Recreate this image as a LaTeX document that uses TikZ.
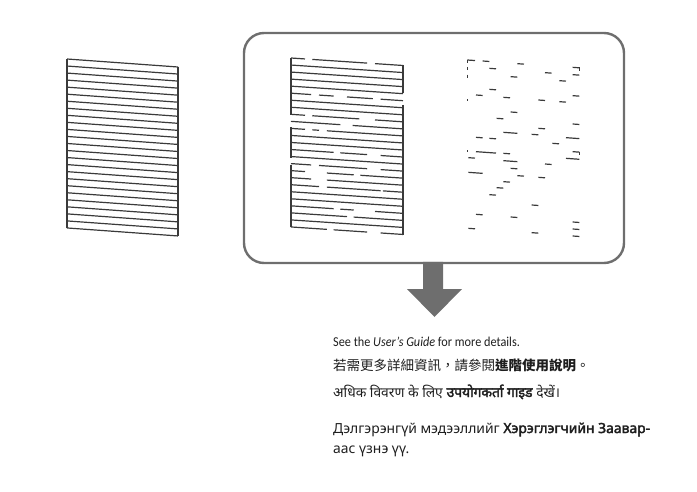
\documentclass[tikz,border=0pt]{standalone}
\usepackage{fontspec}
\setmainfont{Carlito}
\newfontfamily\cjk{Noto Sans CJK TC}
\newfontfamily\deva[Script=Devanagari, AutoFakeBold=2.5]{Noto Sans}
\newfontfamily\cyr[AutoFakeBold=2.5]{Noto Sans}
\definecolor{gridc}{HTML}{3A3A3A}
\definecolor{boxc}{HTML}{6E6E6E}
\definecolor{txtc}{HTML}{1E1E1E}
\tikzset{
  gridline/.style={draw=gridc, line width=1.2pt},
  panelbox/.style={draw=boxc, line width=2.4pt, rounded corners=20pt},
  bigarrow/.style={fill=boxc, draw=none},
  infotext/.style={anchor=base west, inner sep=0pt, text=txtc}
}
% middle grid: line #1 (1..25), from fraction #2 to #3
\newcommand\mseg[3]{\draw[gridline] ({291+112*#2},{58+7.04*(#1-1)+7.5*#2}) -- ({291+112*#3},{58+7.04*(#1-1)+7.5*#3});}
% right pattern dash in zoom coordinates
\newcommand\rdash[3]{\draw[gridline] ({450+#1/3},{50+#3/3}) -- ({450+#2/3},{50+#3/3+0.0714*(#2-#1)/3});}
\begin{document}
\begin{tikzpicture}[x=1pt,y=-1pt]
\useasboundingbox (0,0) rectangle (697,492);
% ---- left (good) pattern
\foreach \i in {0,...,24}{
  \draw[gridline] (67,{59+7.04*\i}) -- (178,{67+7.04*\i});
}
\draw[gridline] (67,59) -- (67,228);
\draw[gridline] (178,67) -- (178,236);
% ---- panel
\draw[panelbox] (244,33) rectangle (624,263);
% ---- middle pattern
\foreach \i in {2,3,4,5,7,8,12,13,15,20,21,24}{ \mseg{\i}{0}{1} }
\mseg{1}{0}{0.125}\mseg{1}{0.19}{0.68}\mseg{1}{0.75}{1}
\mseg{6}{0}{0.18}\mseg{6}{0.25}{0.38}\mseg{6}{0.5}{0.73}\mseg{6}{0.8}{1}
\mseg{9}{0}{0.125}\mseg{9}{0.19}{0.61}\mseg{9}{0.75}{1}
\mseg{10}{0}{0.44}\mseg{10}{0.55}{1}
\mseg{11}{0}{0.125}\mseg{11}{0.19}{0.25}\mseg{11}{0.32}{1}
\mseg{14}{0}{0.38}\mseg{14}{0.44}{0.68}\mseg{14}{0.8}{1}
\mseg{16}{0}{0.18}\mseg{16}{0.25}{0.68}\mseg{16}{0.8}{1}
\mseg{17}{0}{0.125}\mseg{17}{0.32}{0.56}\mseg{17}{0.62}{1}
\mseg{18}{0}{0.18}\mseg{18}{0.32}{1}
\mseg{19}{0}{0.25}\mseg{19}{0.32}{0.8}\mseg{19}{0.82}{1}
\mseg{22}{0}{0.38}\mseg{22}{0.44}{0.56}\mseg{22}{0.75}{1}
\mseg{23}{0}{0.5}\mseg{23}{0.56}{1}
\mseg{25}{0}{0.32}\mseg{25}{0.38}{0.68}\mseg{25}{0.8}{1}
\draw[gridline] (291,58) -- (291,115);
\draw[gridline] (291,127) -- (291,158);
\draw[gridline] (291,165) -- (291,227);
\draw[gridline] (403,65) -- (403,93);
\draw[gridline] (403,105) -- (403,235);
% ---- right (faulty) pattern
\rdash{52}{75}{30}\rdash{98}{118}{33}\rdash{202}{222}{41}
\rdash{118}{138}{55}\rdash{368}{388}{52}\rdash{285}{305}{68}
\rdash{368}{388}{74}\rdash{182}{202}{80}\rdash{328}{348}{92}
\rdash{118}{138}{118}\rdash{78}{98}{135}\rdash{160}{180}{142}
\rdash{368}{388}{137}\rdash{265}{285}{150}\rdash{328}{348}{155}
\rdash{182}{202}{186}\rdash{140}{160}{205}\rdash{368}{388}{222}
\rdash{265}{285}{235}\rdash{160}{202}{247}\rdash{245}{265}{253}
\rdash{78}{98}{262}\rdash{118}{138}{265}\rdash{348}{388}{263}
\rdash{307}{327}{280}\rdash{78}{138}{305}\rdash{160}{180}{310}
\rdash{368}{388}{305}\rdash{55}{75}{323}\rdash{160}{202}{332}
\rdash{348}{388}{325}\rdash{285}{305}{342}\rdash{182}{202}{355}
\rdash{55}{98}{367}\rdash{202}{222}{377}\rdash{265}{285}{382}
\rdash{160}{180}{395}\rdash{140}{160}{413}\rdash{118}{138}{434}
\rdash{245}{265}{465}\rdash{78}{98}{493}\rdash{182}{202}{501}
\rdash{368}{388}{516}\rdash{55}{75}{535}\rdash{368}{388}{537}
\rdash{245}{265}{548}\rdash{368}{388}{558}
\draw[gridline] ({450+52/3},{50+30/3}) -- ({450+52/3},{50+40/3});
\draw[gridline] ({450+52/3},{50+51/3}) -- ({450+52/3},{50+60/3});
\draw[gridline] ({450+52/3},{50+74/3}) -- ({450+52/3},{50+83/3});
\draw[gridline] ({450+388/3},{50+52/3}) -- ({450+388/3},{50+62/3});
\draw[gridline] ({450+388/3},{50+305/3}) -- ({450+388/3},{50+315/3});
\draw[gridline] ({450+52/3},{50+148/3}) -- ({450+52/3},{50+153/3});
\draw[gridline] ({450+52/3},{50+301/3}) -- ({450+52/3},{50+306/3});
% ---- arrow
\fill[bigarrow] (423,262) -- (443,262) -- (443,289) -- (462,289) -- (434.5,317)
  -- (407,289) -- (423,289) -- cycle;
% ---- text
\node[infotext, font=\fontsize{13.6}{15}\selectfont] (t1) at (333,346)
  {\scalebox{0.9}[1]{See the \textit{User’s Guide} for more details.}};
\node[infotext, font=\cjk\fontsize{13.5}{16}\selectfont] (t2) at (333,370)
  {若需更多詳細資訊，請參閱\textbf{進階使用說明}。};
\node[infotext, font=\deva\fontsize{13.8}{16}\selectfont] (t3) at (333,397)
  {अधिक विवरण के लिए \textbf{उपयोगकर्ता गाइड} देखें।};
\node[infotext, font=\cyr\fontsize{13.9}{16}\selectfont] (t4) at (333,433)
  {Дэлгэрэнгүй мэдээллийг \textbf{Хэрэглэгчийн Заавар-}};
\node[infotext, font=\cyr\fontsize{13.9}{16}\selectfont] (t5) at (333,453)
  {аас үзнэ үү.};
\end{tikzpicture}
\end{document}
